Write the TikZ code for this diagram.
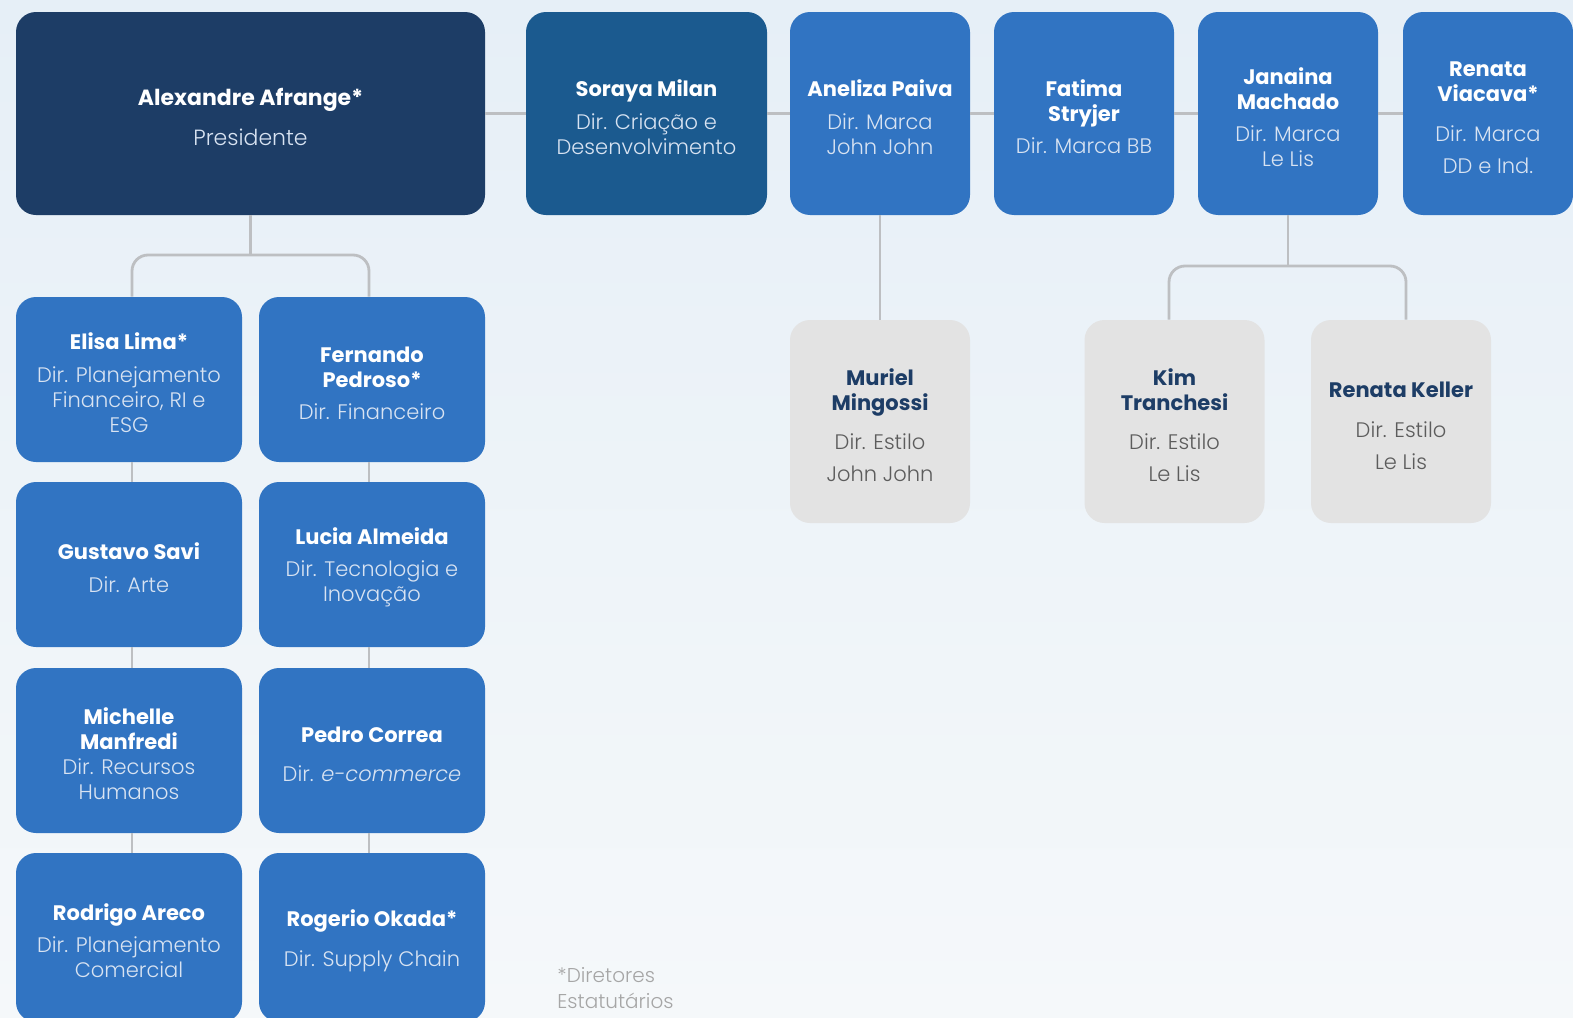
\documentclass[tikz,border=0pt]{standalone}
\usepackage{fontspec}
\setmainfont{Poppins}
\newfontfamily\ltf{Poppins Light}
\definecolor{cNavy}{HTML}{1D3D66}
\definecolor{cSoraya}{HTML}{1B5A8F}
\definecolor{cBlue}{HTML}{3174C2}
\definecolor{cGrayBox}{HTML}{E3E3E3}
\definecolor{cLine}{HTML}{BDBFC2}
\definecolor{cSubB}{HTML}{D8E3F2}
\definecolor{cSubG}{HTML}{5C5C5C}
\definecolor{cNote}{HTML}{A6A6A6}
\definecolor{cBgTop}{HTML}{E6EFF7}
\definecolor{cBgBot}{HTML}{F5F8FA}
\newcommand{\nm}[1]{\textbf{#1}}
\newcommand{\nmf}[1]{\rule{0pt}{11.6pt}\textbf{#1}}
\newcommand{\subb}[1]{{\ltf\color{cSubB}#1}}
\newcommand{\subg}[1]{{\ltf\color{cSubG}#1}}
\begin{document}
\begin{tikzpicture}[x=0.5pt,y=-0.5pt,
  box/.style={rounded corners=10pt, align=center, inner sep=0pt,
    font=\fontsize{10.5}{12.5}\selectfont},
  presbox/.style={box, fill=cNavy, text=white, minimum width=234.5pt, minimum height=101.5pt,
    font=\fontsize{11}{12.5}\selectfont},
  sorbox/.style={box, fill=cSoraya, text=white, minimum width=120.5pt, minimum height=101.5pt},
  topbox/.style={box, fill=cBlue, text=white, minimum width=90pt, minimum height=101.5pt},
  colbox/.style={box, fill=cBlue, text=white, minimum width=113pt, minimum height=82.5pt},
  graybox/.style={box, fill=cGrayBox, text=cNavy, minimum width=90pt, minimum height=101.5pt},
  conn/.style={draw=cLine, line width=1.4pt},
  elbow/.style={conn, rounded corners=8pt}
]
\useasboundingbox (0,0) rectangle (1573,1017);
\shade[top color=cBgTop, bottom color=cBgBot] (0,0) rectangle (1573,1017);

% helper coordinates
\coordinate (lc) at (132,0);
\coordinate (rc) at (369,0);
\coordinate (jy) at (0,255);
\coordinate (kx) at (1169,0);
\coordinate (kx2) at (1406,0);
\coordinate (ky) at (0,266);

% top row
\node[presbox] (alex) at (250.5,113.5) {\nmf{Alexandre Afrange*}\\[7.5pt]\subb{Presidente}};
\node[sorbox] (soraya) at (646.5,113.5) {\nmf{Soraya Milan}\\[4pt]\subb{Dir. Criação e}\\\subb{Desenvolvimento}};
\node[topbox] (aneliza) at (880,113.5) {\nmf{Aneliza Paiva}\\[4pt]\subb{Dir. Marca}\\\subb{John John}};
\node[topbox] (fatima) at (1084,113.5) {\nmf{Fatima}\\\nm{Stryjer}\\[3.5pt]\subb{Dir. Marca BB}};
\node[topbox] (janaina) at (1288,113.5) {\nmf{Janaina}\\\nm{Machado}\\[3.5pt]\subb{Dir. Marca}\\\subb{Le Lis}};
\node[topbox, minimum width=85pt] (viacava) at (1488,113.5) {\nmf{Renata}\\\nm{Viacava*}\\[7.5pt]\subb{Dir. Marca}\\[3.5pt]\subb{DD e Ind.}};

% left columns
\node[colbox] (elisa) at (129,379.5) {\nmf{Elisa Lima*}\\[4pt]\subb{Dir. Planejamento}\\\subb{Financeiro, RI e}\\\subb{ESG}};
\node[colbox] (fernando) at (372,379.5) {\nmf{Fernando}\\\nm{Pedroso*}\\[3.5pt]\subb{Dir. Financeiro}};
\node[colbox] (gustavo) at (129,564.5) {\nmf{Gustavo Savi}\\[4pt]\subb{Dir. Arte}};
\node[colbox] (lucia) at (372,564.5) {\nmf{Lucia Almeida}\\[3.5pt]\subb{Dir. Tecnologia e}\\\subb{Inovação}};
\node[colbox] (michelle) at (129,750.5) {\nmf{Michelle}\\\nm{Manfredi}\\\subb{Dir. Recursos}\\\subb{Humanos}};
\node[colbox] (pedro) at (372,750.5) {\nmf{Pedro Correa}\\[7pt]\subb{Dir. \textit{e-commerce}}};
\node[colbox, minimum height=84.5pt] (rodrigo) at (129,937.5) {\nmf{Rodrigo Areco}\\[3.5pt]\subb{Dir. Planejamento}\\\subb{Comercial}};
\node[colbox, minimum height=84.5pt] (rogerio) at (372,937.5) {\nmf{Rogerio Okada*}\\[7.5pt]\subb{Dir. Supply Chain}};

% gray boxes
\node[graybox] (muriel) at (880,421.5) {\nmf{Muriel}\\\nm{Mingossi}\\[7pt]\subg{Dir. Estilo}\\[3.5pt]\subg{John John}};
\node[graybox] (kim) at (1174.5,421.5) {\nmf{Kim}\\\nm{Tranchesi}\\[7pt]\subg{Dir. Estilo}\\[3.5pt]\subg{Le Lis}};
\node[graybox] (keller) at (1401,421.5) {\nmf{Renata Keller}\\[7.5pt]\subg{Dir. Estilo}\\[3.5pt]\subg{Le Lis}};

% note
\node[anchor=west, align=left, inner sep=0pt, text=cNote, font=\ltf\fontsize{10}{13}\selectfont] (note) at (557,988) {*Diretores\\Estatutários};

% connectors: top row
\draw[conn] (alex.east) -- (soraya.west);
\draw[conn] (soraya.east) -- (aneliza.west);
\draw[conn] (aneliza.east) -- (fatima.west);
\draw[conn] (fatima.east) -- (janaina.west);
\draw[conn] (janaina.east) -- (viacava.west);

% president to columns
\draw[conn] (alex.south) -- (alex.south |- jy);
\draw[elbow] (elisa.north -| lc) |- (alex.south |- jy) -| (fernando.north -| rc);
\draw[conn] (elisa.south -| lc) -- (gustavo.north -| lc);
\draw[conn] (gustavo.south -| lc) -- (michelle.north -| lc);
\draw[conn] (michelle.south -| lc) -- (rodrigo.north -| lc);
\draw[conn] (fernando.south -| rc) -- (lucia.north -| rc);
\draw[conn] (lucia.south -| rc) -- (pedro.north -| rc);
\draw[conn] (pedro.south -| rc) -- (rogerio.north -| rc);

% brands to style directors
\draw[conn] (aneliza.south) -- (muriel.north);
\draw[conn] (janaina.south) -- (janaina.south |- ky);
\draw[elbow] (kim.north -| kx) |- (janaina.south |- ky) -| (keller.north -| kx2);
\end{tikzpicture}
\end{document}
